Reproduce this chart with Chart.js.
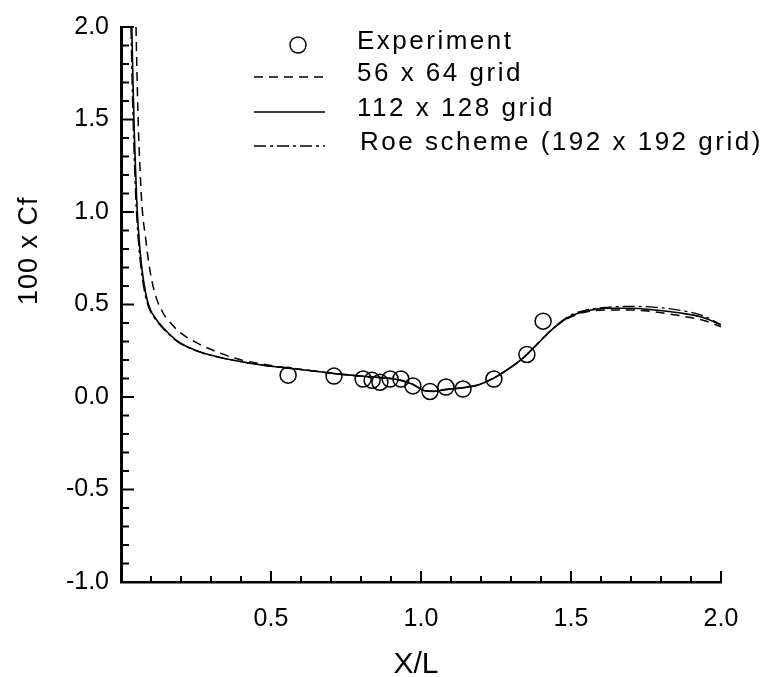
<!DOCTYPE html>
<html>
<head>
<meta charset="utf-8">
<script src="https://cdn.jsdelivr.net/npm/chart.js@4/dist/chart.umd.min.js"></script>
<style>
html,body{margin:0;padding:0;background:#fff;}
#wrap{width:771px;height:677px;}
</style>
</head>
<body>
<div id="wrap"><canvas id="chart" width="771" height="677"></canvas></div>
<script>
// experiment points
const expX=[0.557,0.71,0.807,0.837,0.863,0.897,0.933,0.973,1.03,1.083,1.14,1.243,1.353,1.407];
const expY=[0.118,0.113,0.097,0.09,0.08,0.097,0.097,0.06,0.03,0.054,0.043,0.097,0.23,0.41];

// 56 x 64 grid
const g56X=[0.050,0.054,0.058,0.063,0.068,0.074,0.082,0.092,0.104,0.12,0.14,0.16,0.2,0.25,0.31,0.39,0.5,0.62,0.72,0.82,0.92,0.97,1.01,1.04,1.08,1.14,1.19,1.24,1.29,1.34,1.39,1.44,1.49,1.55,1.62,1.70,1.78,1.86,1.94,2.0];
const g56Y=[2.0,1.7,1.45,1.25,1.08,0.96,0.86,0.73,0.62,0.525,0.455,0.41,0.345,0.295,0.25,0.205,0.17,0.145,0.125,0.11,0.095,0.07,0.037,0.032,0.04,0.05,0.065,0.1,0.15,0.21,0.29,0.37,0.425,0.46,0.47,0.47,0.46,0.44,0.415,0.38];

// 112 x 128 grid
const g112X=[0.036,0.04,0.044,0.048,0.052,0.057,0.063,0.07,0.078,0.088,0.1,0.113,0.127,0.155,0.19,0.23,0.28,0.37,0.48,0.62,0.72,0.82,0.92,0.97,1.01,1.04,1.08,1.14,1.19,1.24,1.29,1.34,1.39,1.44,1.49,1.55,1.62,1.70,1.78,1.86,1.94,2.0];
const g112Y=[2.0,1.7,1.45,1.25,1.08,0.93,0.8,0.69,0.6,0.52,0.465,0.43,0.4,0.35,0.3,0.265,0.235,0.2,0.17,0.145,0.125,0.11,0.095,0.07,0.035,0.03,0.04,0.05,0.065,0.1,0.15,0.21,0.29,0.37,0.43,0.465,0.48,0.48,0.47,0.455,0.43,0.39];

// Roe scheme 192 x 192
const roeX=[0.033,0.037,0.041,0.045,0.049,0.054,0.06,0.067,0.075,0.085,0.097,0.11,0.124,0.152,0.187,0.227,0.277,0.37,0.48,0.62,0.72,0.82,0.92,0.97,1.01,1.04,1.08,1.14,1.19,1.24,1.29,1.34,1.39,1.44,1.49,1.55,1.62,1.70,1.78,1.86,1.94,2.0];
const roeY=[2.0,1.7,1.45,1.25,1.08,0.93,0.8,0.69,0.6,0.52,0.465,0.43,0.4,0.35,0.3,0.265,0.235,0.2,0.17,0.145,0.125,0.11,0.095,0.07,0.035,0.03,0.04,0.05,0.065,0.1,0.15,0.21,0.29,0.37,0.435,0.47,0.485,0.49,0.485,0.47,0.44,0.39];

const xMin=0,xMax=2,yMin=-1,yMax=2;
const majorStep=0.5,minorStep=0.1;
const labels=["Experiment","56 x 64 grid","112 x 128 grid","Roe scheme (192 x 192 grid)"];

const pts=(xs,ys)=>xs.map((x,i)=>({x:x,y:ys[i]}));

const lineBase={showLine:true,pointRadius:0,borderColor:"#000",fill:false,cubicInterpolationMode:"monotone"};

const ticksPlugin={
id:"innerTicks",
afterDatasetsDraw(chart){
const ctx=chart.ctx,xs=chart.scales.x,ys=chart.scales.y;
ctx.save();
ctx.strokeStyle="#000";
ctx.lineWidth=2;
const nX=Math.round((xMax-xMin)/minorStep);
for(let i=1;i<=nX;i++){
const px=xs.getPixelForValue(xMin+i*minorStep);
const len=i%5===0?11:6;
ctx.beginPath();ctx.moveTo(px,ys.bottom);ctx.lineTo(px,ys.bottom-len);ctx.stroke();
}
const nY=Math.round((yMax-yMin)/minorStep);
for(let i=1;i<=nY;i++){
const py=ys.getPixelForValue(yMin+i*minorStep);
const len=i%5===0?13:8;
ctx.beginPath();ctx.moveTo(xs.left,py);ctx.lineTo(xs.left+len,py);ctx.stroke();
}
ctx.restore();
}
};

const textPlugin={
id:"texts",
afterDraw(chart){
const ctx=chart.ctx;
ctx.save();
ctx.fillStyle="#000";
// y title
ctx.font="27px 'Liberation Sans', Arial, sans-serif";
ctx.letterSpacing="1px";
ctx.translate(37,305);
ctx.rotate(-Math.PI/2);
ctx.textAlign="left";
ctx.textBaseline="alphabetic";
ctx.fillText("100 x Cf",0,0);
ctx.restore();

ctx.save();
ctx.fillStyle="#000";
ctx.font="30px 'Liberation Sans', Arial, sans-serif";
ctx.textAlign="center";
ctx.textBaseline="alphabetic";
ctx.fillText("X/L",416,673);

// legend
ctx.font="26px 'Liberation Sans', Arial, sans-serif";
ctx.letterSpacing="2.5px";
ctx.textAlign="left";
ctx.textBaseline="middle";
const ds=chart.data.datasets;
const rows=[45,77,112,146];
const textX=[357,357,357,360];
ds.forEach((d,i)=>{
const y=rows[i];
ctx.strokeStyle="#000";
if(i===0){
ctx.lineWidth=1.5;ctx.setLineDash([]);
ctx.beginPath();ctx.arc(298,y,8,0,Math.PI*2);ctx.stroke();
}else{
ctx.lineWidth=d.borderWidth;
ctx.setLineDash(d.borderDash||[]);
ctx.beginPath();ctx.moveTo(254,y);ctx.lineTo(325,y);ctx.stroke();
}
ctx.setLineDash([]);
ctx.fillText(d.label,textX[i],y-3);
});
ctx.restore();
}
};

new Chart(document.getElementById("chart"),{
type:"scatter",
data:{
datasets:[
{label:labels[0],data:pts(expX,expY),pointRadius:8,pointBorderWidth:1.5,pointBorderColor:"#000",pointBackgroundColor:"rgba(0,0,0,0)",showLine:false,order:0},
{...lineBase,label:labels[1],data:pts(g56X,g56Y),borderWidth:1.5,borderDash:[9,6]},
{...lineBase,label:labels[2],data:pts(g112X,g112Y),borderWidth:1.6},
{...lineBase,label:labels[3],data:pts(roeX,roeY),borderWidth:1.3,borderDash:[12,4,3,4]}
]
},
options:{
responsive:false,
animation:false,
layout:{padding:{top:22,right:50,left:0,bottom:0}},
plugins:{legend:{display:false},tooltip:{enabled:false}},
scales:{
x:{
type:"linear",min:xMin,max:xMax,
grid:{display:false,drawTicks:false},
border:{display:true,color:"#000",width:2.5},
ticks:{stepSize:majorStep,autoSkip:false,padding:22,color:"#000",
font:{family:"'Liberation Sans', Arial, sans-serif",size:25},
callback:v=>v===0?"":v.toFixed(1)},
afterFit:s=>{s.height=95;}
},
y:{
type:"linear",min:yMin,max:yMax,
grid:{display:false,drawTicks:false},
border:{display:true,color:"#000",width:3},
ticks:{stepSize:majorStep,autoSkip:false,padding:12,color:"#000",
font:{family:"'Liberation Sans', Arial, sans-serif",size:25},
callback:v=>v.toFixed(1)},
afterFit:s=>{s.width=121;}
}
}
},
plugins:[ticksPlugin,textPlugin]
});
</script>
</body>
</html>
